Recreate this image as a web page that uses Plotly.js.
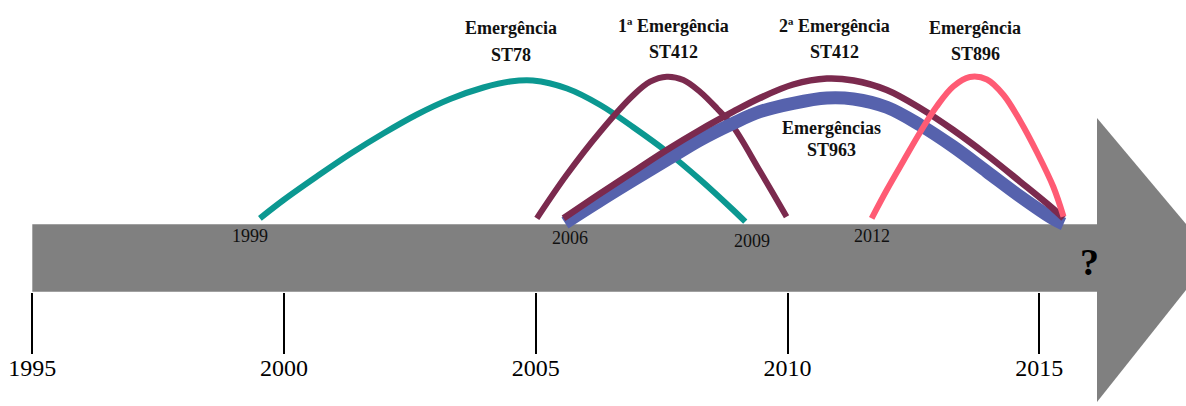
<!DOCTYPE html>
<html>
<head>
<meta charset="utf-8">
<script src="https://cdn.plot.ly/plotly-3.0.1.min.js"></script>
<style>html,body{margin:0;padding:0;background:#fff;}#chart{width:1186px;height:406px;}</style>
</head>
<body>
<div id="chart"></div>
<script>
// ---- data (years on x, arc height above the timeline on y) ----
const tickYears = [1995, 2000, 2005, 2010, 2015];

const st78Years = [1999.52, 1999.99, 2000.65, 2001.31, 2001.97, 2002.64, 2003.30, 2003.96, 2004.49, 2004.94, 2005.62, 2006.28, 2006.93, 2007.61, 2008.26, 2008.92, 2009.16];
const st78Height = [5.7, 24, 47.5, 70, 90.5, 109.5, 125, 136.5, 142.5, 143.5, 135.5, 119, 97, 72, 44.5, 14, 2.3];

const st412aYears = [2005.02, 2005.61, 2006.28, 2006.94, 2007.27, 2007.60, 2007.93, 2008.26, 2008.59, 2008.92, 2009.45, 2009.98];
const st412aHeight = [5.7, 49, 92.3, 129, 142.3, 147.3, 144, 132.3, 116, 97.3, 53, 7.3];

const st963Years = [2005.58, 2006.28, 2006.94, 2007.60, 2008.26, 2008.92, 2009.45, 2010.11, 2010.78, 2011.31, 2011.97, 2012.63, 2013.29, 2013.96, 2014.62, 2015.28, 2015.48];
const st963Height = [1, 23.5, 44, 64, 84, 100.7, 112.3, 120.7, 126, 125, 116.7, 99, 77.3, 52.3, 27.5, 5, 0];

const st412bYears = [2005.55, 2006.28, 2006.94, 2007.60, 2008.26, 2008.92, 2009.45, 2010.11, 2010.78, 2011.31, 2011.97, 2012.63, 2013.29, 2013.96, 2014.62, 2015.28, 2015.48];
const st412bHeight = [5.7, 30.5, 52.3, 74, 94, 112.3, 126, 139.5, 145.5, 143.5, 134, 116, 94, 69, 42.3, 15, 5.7];

const st896Years = [2011.67, 2011.97, 2012.30, 2012.63, 2012.96, 2013.29, 2013.62, 2013.96, 2014.29, 2014.62, 2014.95, 2015.28, 2015.48];
const st896Height = [5.7, 34, 63, 91.5, 117.5, 137.5, 147, 144.5, 129, 103, 72, 37, 7.3];

const labelLine1 = ["Emergência", "1ª Emergência", "2ª Emergência", "Emergências", "Emergência"];
const labelLine2 = ["ST78", "ST412", "ST412", "ST963", "ST896"];

const yearMarks = ["1999", "2006", "2009", "2012"];

// ---- layout helpers (pixel -> paper) ----
const W = 1186, H = 406, MB = 114, PH = H - MB;
const px = v => v / W;
const py = v => (PH - v) / PH;

function arc(x, y, color, width) {
  return {x: x, y: y, type: 'scatter', mode: 'lines',
    line: {color: color, width: width, shape: 'spline', smoothing: 1},
    hoverinfo: 'skip'};
}

const traces = [
  arc(st78Years, st78Height, '#0b9891', 6),
  arc(st412aYears, st412aHeight, '#7b2a4e', 6),
  arc(st963Years, st963Height, '#5662ad', 13),
  arc(st412bYears, st412bHeight, '#7b2a4e', 6.5),
  arc(st896Years, st896Height, '#ff5b74', 6)
];

const labelPos = [[511, 28, 55], [673, 26, 52], [834, 26, 52], [831, 128, 150], [975, 28, 54]];
const annotations = [];
labelLine1.forEach((t, i) => {
  const p = labelPos[i];
  annotations.push({text: '<b>' + t + '</b>', xref: 'paper', yref: 'paper', x: px(p[0]), y: py(p[1]),
    xanchor: 'center', yanchor: 'middle', showarrow: false,
    font: {family: 'Liberation Serif', size: 18, color: '#111'}});
  annotations.push({text: '<b>' + labelLine2[i] + '</b>', xref: 'paper', yref: 'paper', x: px(p[0]), y: py(p[2]),
    xanchor: 'center', yanchor: 'middle', showarrow: false,
    font: {family: 'Liberation Serif', size: 18, color: '#111'}});
});
const markPos = [[250, 236], [570, 238], [752, 241], [872, 236]];
yearMarks.forEach((t, i) => {
  annotations.push({text: t, xref: 'paper', yref: 'paper', x: px(markPos[i][0]), y: py(markPos[i][1]),
    xanchor: 'center', yanchor: 'middle', showarrow: false,
    font: {family: 'Liberation Serif', size: 18, color: '#111'}});
});
annotations.push({text: '<b>?</b>', xref: 'paper', yref: 'paper', x: px(1089), y: py(262),
  xanchor: 'center', yanchor: 'middle', showarrow: false,
  font: {family: 'Liberation Serif', size: 38, color: '#000'}});

const shapes = [
  {type: 'rect', xref: 'paper', yref: 'paper', x0: px(32.3), x1: px(1098), y0: py(224.3), y1: py(291.7),
    fillcolor: '#808080', line: {width: 0}, layer: 'below'},
  {type: 'path', xref: 'paper', yref: 'paper', layer: 'below', fillcolor: '#808080', line: {width: 0},
    path: 'M ' + px(1097) + ' ' + py(118) + ' L ' + px(1097) + ' ' + py(402) + ' L ' + px(1213) + ' ' + py(256) + ' Z'}
];

const layout = {
  width: W, height: H,
  margin: {l: 0, r: 0, t: 0, b: MB, pad: 0},
  paper_bgcolor: '#fff', plot_bgcolor: 'rgba(0,0,0,0)',
  showlegend: false, hovermode: false,
  xaxis: {range: [1994.3585, 2017.913], tickvals: tickYears, ticktext: tickYears.map(String),
    ticks: 'outside', ticklen: 61, tickwidth: 2, tickcolor: '#000', ticklabelstandoff: -7,
    showgrid: false, zeroline: false, showline: false, fixedrange: true,
    tickfont: {family: 'Liberation Serif', size: 24, color: '#000'}},
  yaxis: {range: [-68, 224], visible: false, fixedrange: true},
  shapes: shapes,
  annotations: annotations
};

Plotly.newPlot('chart', traces, layout, {staticPlot: true, displayModeBar: false});
</script>
</body>
</html>
